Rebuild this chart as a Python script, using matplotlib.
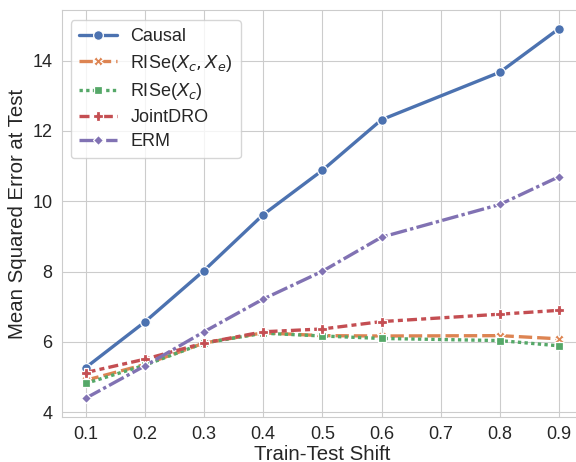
import matplotlib
matplotlib.use("Agg")
import matplotlib.pyplot as plt
import seaborn as sns

sns.set_style("whitegrid")
plt.rcParams["font.family"] = ["Arial", "Liberation Sans", "DejaVu Sans"]

shift = [0.1, 0.2, 0.3, 0.4, 0.5, 0.6, 0.8, 0.9]
causal = [5.27, 6.57, 8.03, 9.62, 10.88, 12.32, 13.67, 14.91]
rise_ce = [4.91, 5.36, 5.97, 6.26, 6.18, 6.17, 6.18, 6.09]
rise_c = [4.82, 5.34, 5.97, 6.25, 6.17, 6.10, 6.04, 5.89]
jointdro = [5.13, 5.51, 5.97, 6.29, 6.37, 6.58, 6.79, 6.90]
erm = [4.40, 5.32, 6.29, 7.22, 8.01, 8.98, 9.91, 10.70]

series = [("Causal", causal), (r"RISe($X_c, X_e$)", rise_ce), (r"RISe($X_c$)", rise_c),
          ("JointDRO", jointdro), ("ERM", erm)]
colors = sns.color_palette("deep")
markers = ["o", "X", "s", "P", "D"]
dashes = [(None, None), (4, 1.5), (1, 1), (3, 1.25, 1.5, 1.25), (5, 1, 1, 1)]
msizes = [7, 7, 6, 7, 5]

fig = plt.figure(figsize=(5.76, 4.62), dpi=100)
ax = fig.add_axes([0.1076, 0.098, 0.904, 0.880])
for i, (name, vals) in enumerate(series):
    line, = ax.plot(shift, vals, color=colors[i], lw=2.4, marker=markers[i],
                    markersize=msizes[i], markeredgecolor="white", markeredgewidth=0.9,
                    label=name)
    if dashes[i][0] is not None:
        line.set_dashes(dashes[i])

ax.set_xticks([0.1, 0.2, 0.3, 0.4, 0.5, 0.6, 0.7, 0.8, 0.9])
ax.set_yticks([4, 6, 8, 10, 12, 14])
ax.tick_params(labelsize=13, colors="#262626")
ax.set_xlabel("Train-Test Shift", fontsize=14.7, color="#262626", labelpad=1)
ax.set_ylabel("Mean Squared Error at Test", fontsize=14.7, color="#262626", labelpad=4)
ax.legend(loc="upper left", fontsize=13, handlelength=2.1, handletextpad=0.75,
          borderpad=0.45, labelspacing=0.4, borderaxespad=0,
          bbox_to_anchor=(0.017, 0.975))
fig.savefig("out.png", dpi=100)
